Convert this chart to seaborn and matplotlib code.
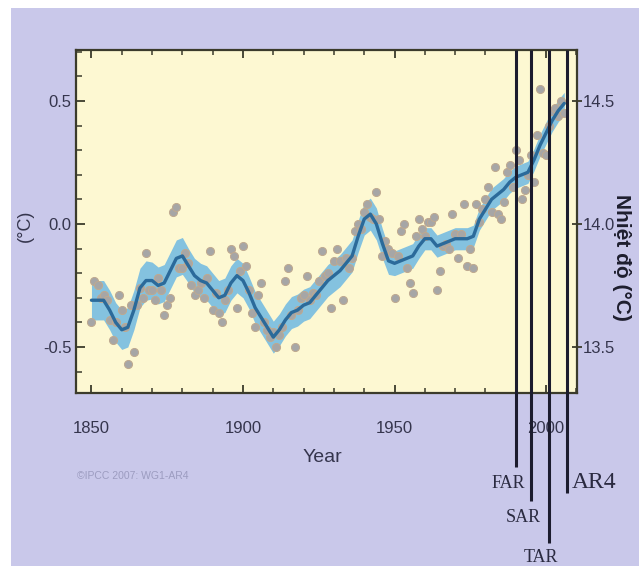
import numpy as np
import pandas as pd
import matplotlib
matplotlib.use("Agg")
import matplotlib.pyplot as plt
from matplotlib.patches import Rectangle
from matplotlib.ticker import MultipleLocator, FixedLocator
import matplotlib.transforms as mtransforms
import seaborn as sns

# ---------------- data ----------------
years = list(range(1850, 2007))
annual_anomaly = [
    -0.40, -0.23, -0.25, -0.30, -0.29, -0.31, -0.39, -0.47, -0.40, -0.29,   # 1850s
    -0.35, -0.42, -0.57, -0.33, -0.52, -0.33, -0.26, -0.30, -0.12, -0.27,   # 1860s
    -0.27, -0.31, -0.22, -0.27, -0.37, -0.33, -0.30, 0.05, 0.07, -0.18,     # 1870s
    -0.18, -0.12, -0.16, -0.25, -0.29, -0.27, -0.24, -0.30, -0.22, -0.11,   # 1880s
    -0.35, -0.28, -0.36, -0.40, -0.31, -0.27, -0.10, -0.13, -0.34, -0.19,   # 1890s
    -0.09, -0.17, -0.27, -0.36, -0.42, -0.29, -0.24, -0.40, -0.43, -0.46,   # 1900s
    -0.44, -0.50, -0.45, -0.42, -0.23, -0.18, -0.37, -0.50, -0.35, -0.30,   # 1910s
    -0.29, -0.21, -0.31, -0.28, -0.29, -0.23, -0.11, -0.21, -0.20, -0.34,   # 1920s
    -0.15, -0.10, -0.15, -0.31, -0.14, -0.18, -0.14, -0.03, 0.00, -0.02,    # 1930s
    0.05, 0.08, 0.03, 0.02, 0.13, 0.02, -0.13, -0.07, -0.10, -0.12,         # 1940s
    -0.30, -0.13, -0.03, 0.00, -0.18, -0.24, -0.28, -0.05, 0.02, -0.02,     # 1950s
    -0.05, 0.01, 0.01, 0.03, -0.27, -0.19, -0.09, -0.08, -0.10, 0.04,       # 1960s
    -0.04, -0.14, -0.04, 0.08, -0.17, -0.10, -0.18, 0.08, 0.01, 0.06,       # 1970s
    0.10, 0.15, 0.05, 0.23, 0.04, 0.02, 0.09, 0.21, 0.24, 0.15,             # 1980s
    0.30, 0.26, 0.10, 0.14, 0.20, 0.28, 0.17, 0.36, 0.55, 0.29,             # 1990s
    0.28, 0.40, 0.46, 0.47, 0.44, 0.50, 0.45,                               # 2000s
]

smooth_years = list(range(1850, 2007, 2))
smooth_anomaly = [
    -0.31, -0.31, -0.31, -0.35, -0.40, -0.43, -0.42, -0.35, -0.26, -0.23,
    -0.23, -0.25, -0.24, -0.19, -0.14, -0.13, -0.17, -0.21, -0.23, -0.24,
    -0.27, -0.30, -0.29, -0.24, -0.21, -0.23, -0.28, -0.34, -0.38, -0.42,
    -0.46, -0.43, -0.39, -0.36, -0.35, -0.33, -0.32, -0.29, -0.26, -0.23,
    -0.21, -0.19, -0.16, -0.13, -0.05, 0.02, 0.04, 0.00, -0.08, -0.15,
    -0.16, -0.15, -0.14, -0.13, -0.09, -0.06, -0.06, -0.09, -0.08, -0.07,
    -0.06, -0.06, -0.06, -0.05, 0.02, 0.06, 0.10, 0.12, 0.14, 0.17,
    0.19, 0.20, 0.21, 0.26, 0.32, 0.37, 0.42, 0.46, 0.49,
]
band_halfwidth = [
    0.08, 0.08, 0.08, 0.08, 0.08, 0.08, 0.08, 0.08, 0.08, 0.08,
    0.075, 0.075, 0.075, 0.075, 0.075, 0.075, 0.07, 0.07, 0.07, 0.07,
    0.07, 0.07, 0.07, 0.07, 0.07, 0.07, 0.065, 0.065, 0.065, 0.065,
    0.065, 0.065, 0.065, 0.065, 0.065, 0.065, 0.065, 0.065, 0.065, 0.065,
    0.065, 0.065, 0.065, 0.065, 0.065, 0.065, 0.065, 0.065, 0.06, 0.055,
    0.05, 0.05, 0.05, 0.05, 0.05, 0.045, 0.045, 0.045, 0.045, 0.045,
    0.045, 0.045, 0.045, 0.045, 0.045, 0.045, 0.045, 0.045, 0.045, 0.045,
    0.045, 0.045, 0.045, 0.045, 0.045, 0.045, 0.045, 0.045, 0.045,
]

report_names = ["FAR", "SAR", "TAR", "AR4"]
report_years = [1990, 1995, 2001, 2007]

x_tick_years = [1850, 1900, 1950, 2000]
left_ticks = [-0.5, 0.0, 0.5]
right_ticks = [13.5, 14.0, 14.5]
baseline_temp = 14.0

# ---------------- styling ----------------
sns.set_style("ticks")
plt.rcParams["font.family"] = ["Liberation Sans", "DejaVu Sans"]

LAVENDER = "#c9c8ea"
CREAM = "#fdf8d2"
TEXT = "#35354d"
BAND = "#84c2df"
LINE = "#2b6a9a"
VLINE = "#1c1c2e"

W, H = 639, 566
fig = plt.figure(figsize=(W / 100, H / 100), dpi=100, facecolor="white")
fig.patches.append(Rectangle((11 / W, 0), 1 - 11 / W, (H - 8) / H,
                             transform=fig.transFigure, facecolor=LAVENDER,
                             edgecolor="none", zorder=-5))

ax_left, ax_right_px, ax_top, ax_bot = 76, 577, 50, 393
ax = fig.add_axes([ax_left / W, 1 - ax_bot / H, (ax_right_px - ax_left) / W,
                   (ax_bot - ax_top) / H])
ax.set_facecolor(CREAM)

df_a = pd.DataFrame({"year": years, "anom": annual_anomaly})
df_s = pd.DataFrame({"year": smooth_years, "anom": smooth_anomaly,
                     "hw": band_halfwidth})

ax.fill_between(df_s["year"], df_s["anom"] - df_s["hw"], df_s["anom"] + df_s["hw"],
                color=BAND, linewidth=0, zorder=2)
sns.scatterplot(data=df_a, x="year", y="anom", ax=ax, s=34, color="#a6a6a6",
                edgecolor="#bfa98f", linewidth=0.7, zorder=3, legend=False)
sns.lineplot(data=df_s, x="year", y="anom", ax=ax, color=LINE, linewidth=2.4,
             zorder=4, legend=False)

ax.set_xlim(1844.9, 2010.2)
ax.set_ylim(-0.687, 0.707)
ax.set_xlabel("")
ax.set_ylabel("")

# x ticks
ax.xaxis.set_major_locator(FixedLocator(x_tick_years))
ax.xaxis.set_minor_locator(MultipleLocator(10))
ax.set_xticklabels([str(y) for y in x_tick_years])
ax.tick_params(axis="x", which="major", direction="in", length=6, width=1.3,
               top=True, bottom=True, pad=20, labelsize=12, labelcolor=TEXT,
               color="#3b3b2b")
ax.tick_params(axis="x", which="minor", direction="in", length=3.5, width=1.1,
               top=True, bottom=True, color="#3b3b2b")

# left y ticks
ax.yaxis.set_major_locator(FixedLocator(left_ticks))
ax.yaxis.set_minor_locator(MultipleLocator(0.1))
ax.set_yticklabels(["-0.5", "0.0", "0.5"])
ax.tick_params(axis="y", which="major", direction="in", length=6.5, width=1.3,
               pad=3, labelsize=12, labelcolor=TEXT, color="#3b3b2b")
ax.tick_params(axis="y", which="minor", direction="in", length=4, width=1.1,
               color="#3b3b2b")

for sp in ax.spines.values():
    sp.set_color("#3b3b2b")
    sp.set_linewidth(1.6)

# right axis in absolute temperature
ax2 = ax.twinx()
lo, hi = ax.get_ylim()
ax2.set_ylim(lo + baseline_temp, hi + baseline_temp)
ax2.yaxis.set_major_locator(FixedLocator(right_ticks))
ax2.set_yticklabels(["13.5", "14.0", "14.5"])
ax2.tick_params(axis="y", which="major", direction="inout", length=7, width=1.3,
                pad=1, labelsize=12, labelcolor=TEXT, color="#3b3b2b")
ax2.tick_params(axis="y", which="minor", length=0)
for sp in ax2.spines.values():
    sp.set_visible(False)

# vertical report lines extending below the axes
trans = mtransforms.blended_transform_factory(ax.transData, ax.transAxes)
line_bottom_px = [467, 501, 543, 493]
for yr, bpx in zip(report_years, line_bottom_px):
    yb = (ax_bot - bpx) / (ax_bot - ax_top)
    ax.plot([yr, yr], [1.0, yb], transform=trans, color=VLINE, lw=2.2,
            clip_on=False, zorder=6, solid_capstyle="butt")

serif = ["Liberation Serif", "DejaVu Serif"]
label_pos = {"FAR": (508, 483, 13), "SAR": (523, 517, 13),
             "TAR": (541, 557, 13), "AR4": (594, 482, 17)}
for name in report_names:
    px, py, fs = label_pos[name]
    fig.text(px / W, 1 - py / H, name, ha="center", va="center", fontsize=fs,
             family=serif, color="#2a2a40")

# axis titles
fig.text(322 / W, 1 - 458 / H, "Year", ha="center", va="center", fontsize=14,
         color=TEXT)
fig.text(25 / W, 1 - 226 / H, "(°C)", ha="center", va="center", fontsize=13,
         rotation=90, color=TEXT)
fig.text(622 / W, 1 - 257 / H, "Nhiệt độ (°C)", ha="center", va="center",
         fontsize=15, fontweight="bold", rotation=270, color="#1e1e2e")
fig.text(77 / W, 1 - 476 / H, "©IPCC 2007: WG1-AR4", ha="left", va="center",
         fontsize=7.5, color="#9c9cc0")

fig.savefig("out.png", dpi=100, facecolor=fig.get_facecolor())
